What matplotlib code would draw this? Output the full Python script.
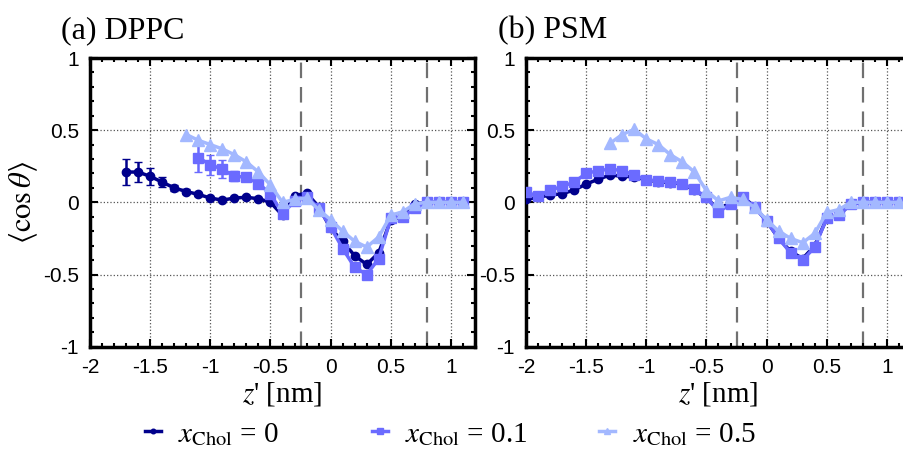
import numpy as np
import matplotlib
matplotlib.use('Agg')
from matplotlib import pyplot as plt
from matplotlib.ticker import MultipleLocator, FuncFormatter

plt.rcParams['axes.unicode_minus'] = False
plt.rcParams['mathtext.fontset'] = 'stix'
plt.rcParams['font.family'] = 'Liberation Sans'

# colours for the three cholesterol fractions
c0 = '#00008c'
c1 = '#6b6bff'
c5 = '#a3b8ff'

# (a) DPPC
z_a0 = np.round(np.arange(-1.7, 1.15, 0.1), 2)
y_a0 = [0.21, 0.21, 0.18, 0.14, 0.10, 0.075, 0.055, 0.03, 0.015, 0.03, 0.035, 0.025,
        0.0, -0.09, 0.045, 0.065, -0.03, -0.18, -0.27, -0.37, -0.43, -0.35, -0.12,
        -0.10, -0.01, 0.0, 0.0, 0.0, 0.0]
e_a0 = [0.09, 0.07, 0.06, 0.035, 0.02, 0.015, 0.01] + [0.0] * 22

z_a1 = np.round(np.arange(-1.1, 1.15, 0.1), 2)
y_a1 = [0.31, 0.26, 0.23, 0.18, 0.175, 0.13, 0.06, -0.08, 0.01, 0.04, -0.04, -0.17,
        -0.32, -0.45, -0.50, -0.39, -0.11, -0.10, -0.04, 0.0, 0.0, 0.0, 0.0]
e_a1 = [0.1, 0.07, 0.06, 0.035, 0.02] + [0.0] * 18

z_a5 = np.round(np.arange(-1.2, 1.15, 0.1), 2)
y_a5 = [0.47, 0.43, 0.40, 0.37, 0.33, 0.28, 0.21, 0.12, 0.0, 0.02, 0.03, -0.05,
        -0.12, -0.20, -0.27, -0.31, -0.24, -0.09, -0.065, -0.01, 0.0, 0.0, 0.0, 0.0]

# (b) PSM
z_b0 = np.round(np.arange(-2.0, 1.15, 0.1), 2)
y_b0 = [0.02, 0.035, 0.05, 0.06, 0.085, 0.127, 0.16, 0.19, 0.18, 0.177, 0.155, 0.143,
        0.136, 0.127, 0.085, 0.03, -0.05, 0.0, 0.04, -0.03, -0.13, -0.25, -0.34,
        -0.39, -0.30, -0.11, -0.09, -0.01, 0.0, 0.0, 0.0, 0.0]

z_b1 = np.round(np.arange(-2.0, 1.15, 0.1), 2)
y_b1 = [0.07, 0.045, 0.085, 0.11, 0.14, 0.20, 0.22, 0.23, 0.22, 0.19, 0.155, 0.15,
        0.14, 0.13, 0.09, 0.035, -0.065, -0.014, 0.035, -0.035, -0.13, -0.25, -0.35,
        -0.40, -0.31, -0.11, -0.09, -0.01, 0.0, 0.0, 0.0, 0.0]

z_b5 = np.round(np.arange(-1.3, 1.15, 0.1), 2)
y_b5 = [0.41, 0.47, 0.505, 0.44, 0.40, 0.33, 0.28, 0.21, 0.08, 0.01, 0.035, 0.02,
        -0.035, -0.12, -0.2, -0.25, -0.28, -0.215, -0.07, -0.05, 0.0, 0.0, 0.0, 0.0, 0.0]

# membrane boundaries (dashed)
z_lines = [-0.245, 0.80]

labels = [r'$x_{\rm Chol}$ = 0', r'$x_{\rm Chol}$ = 0.1', r'$x_{\rm Chol}$ = 0.5']

fig = plt.figure(figsize=(9.04, 4.5), dpi=100)
ax1 = fig.add_axes([0.0996, 0.2296, 0.4258, 0.6415])
ax2 = fig.add_axes([0.5819, 0.2296, 0.4258, 0.6415])


def fmt(v, pos):
    return '%g' % v


def style(ax):
    ax.set_xlim(-2, 1.2)
    ax.set_ylim(-1, 1)
    ax.xaxis.set_major_locator(MultipleLocator(0.5))
    ax.xaxis.set_minor_locator(MultipleLocator(0.1))
    ax.yaxis.set_major_locator(MultipleLocator(0.5))
    ax.yaxis.set_minor_locator(MultipleLocator(0.1))
    ax.xaxis.set_major_formatter(FuncFormatter(fmt))
    ax.yaxis.set_major_formatter(FuncFormatter(fmt))
    ax.tick_params(which='both', direction='in', top=True, right=True, width=1.5,
                   labelsize=15, pad=8)
    ax.tick_params(which='major', length=6)
    ax.tick_params(which='minor', length=3)
    for s in ax.spines.values():
        s.set_linewidth(2.5)
    ax.grid(True, which='major', linestyle=':', color='#555555', linewidth=0.9)
    for zl in z_lines:
        ax.axvline(zl, color='#707070', linestyle=(0, (7, 4)), linewidth=1.6, zorder=1)
    ax.set_xlabel("$z$' [nm]", family='Liberation Serif', fontsize=21, labelpad=2)


handles = []
for ax, z0, y0, z1, y1, z5, y5 in [(ax1, z_a0, y_a0, z_a1, y_a1, z_a5, y_a5),
                                    (ax2, z_b0, y_b0, z_b1, y_b1, z_b5, y_b5)]:
    style(ax)
    h0, = ax.plot(z0, y0, '-o', color=c0, lw=2.5, ms=6, zorder=3)
    h1, = ax.plot(z1, y1, '-s', color=c1, lw=2.5, ms=7.5, zorder=4)
    h5, = ax.plot(z5, y5, '-^', color=c5, lw=2.5, ms=9, zorder=5)
    handles = [h0, h1, h5]

ax1.errorbar(z_a0, y_a0, yerr=e_a0, fmt='none', ecolor=c0, elinewidth=1.8, capsize=3, zorder=3)
ax1.errorbar(z_a1, y_a1, yerr=e_a1, fmt='none', ecolor=c1, elinewidth=1.8, capsize=3, zorder=4)

ax1.set_ylabel(r'$\langle\cos\theta\rangle$', fontsize=22, labelpad=2)

fig.text(0.068, 0.915, '(a) DPPC', family='Liberation Serif', fontsize=23)
fig.text(0.551, 0.915, '(b) PSM', family='Liberation Serif', fontsize=23)

# one legend entry per slot, evenly spaced along the bottom
for h, lab, xpos in zip(handles, labels, [0.160, 0.411, 0.663]):
    fig.legend([h], [lab], loc='center left', bbox_to_anchor=(xpos, 0.035),
               frameon=False, handlelength=0.55, markerscale=0.55,
               handletextpad=0.6, borderpad=0.0, borderaxespad=0.0,
               prop={'family': 'Liberation Serif', 'size': 21})

fig.savefig('out.png', dpi=100)
